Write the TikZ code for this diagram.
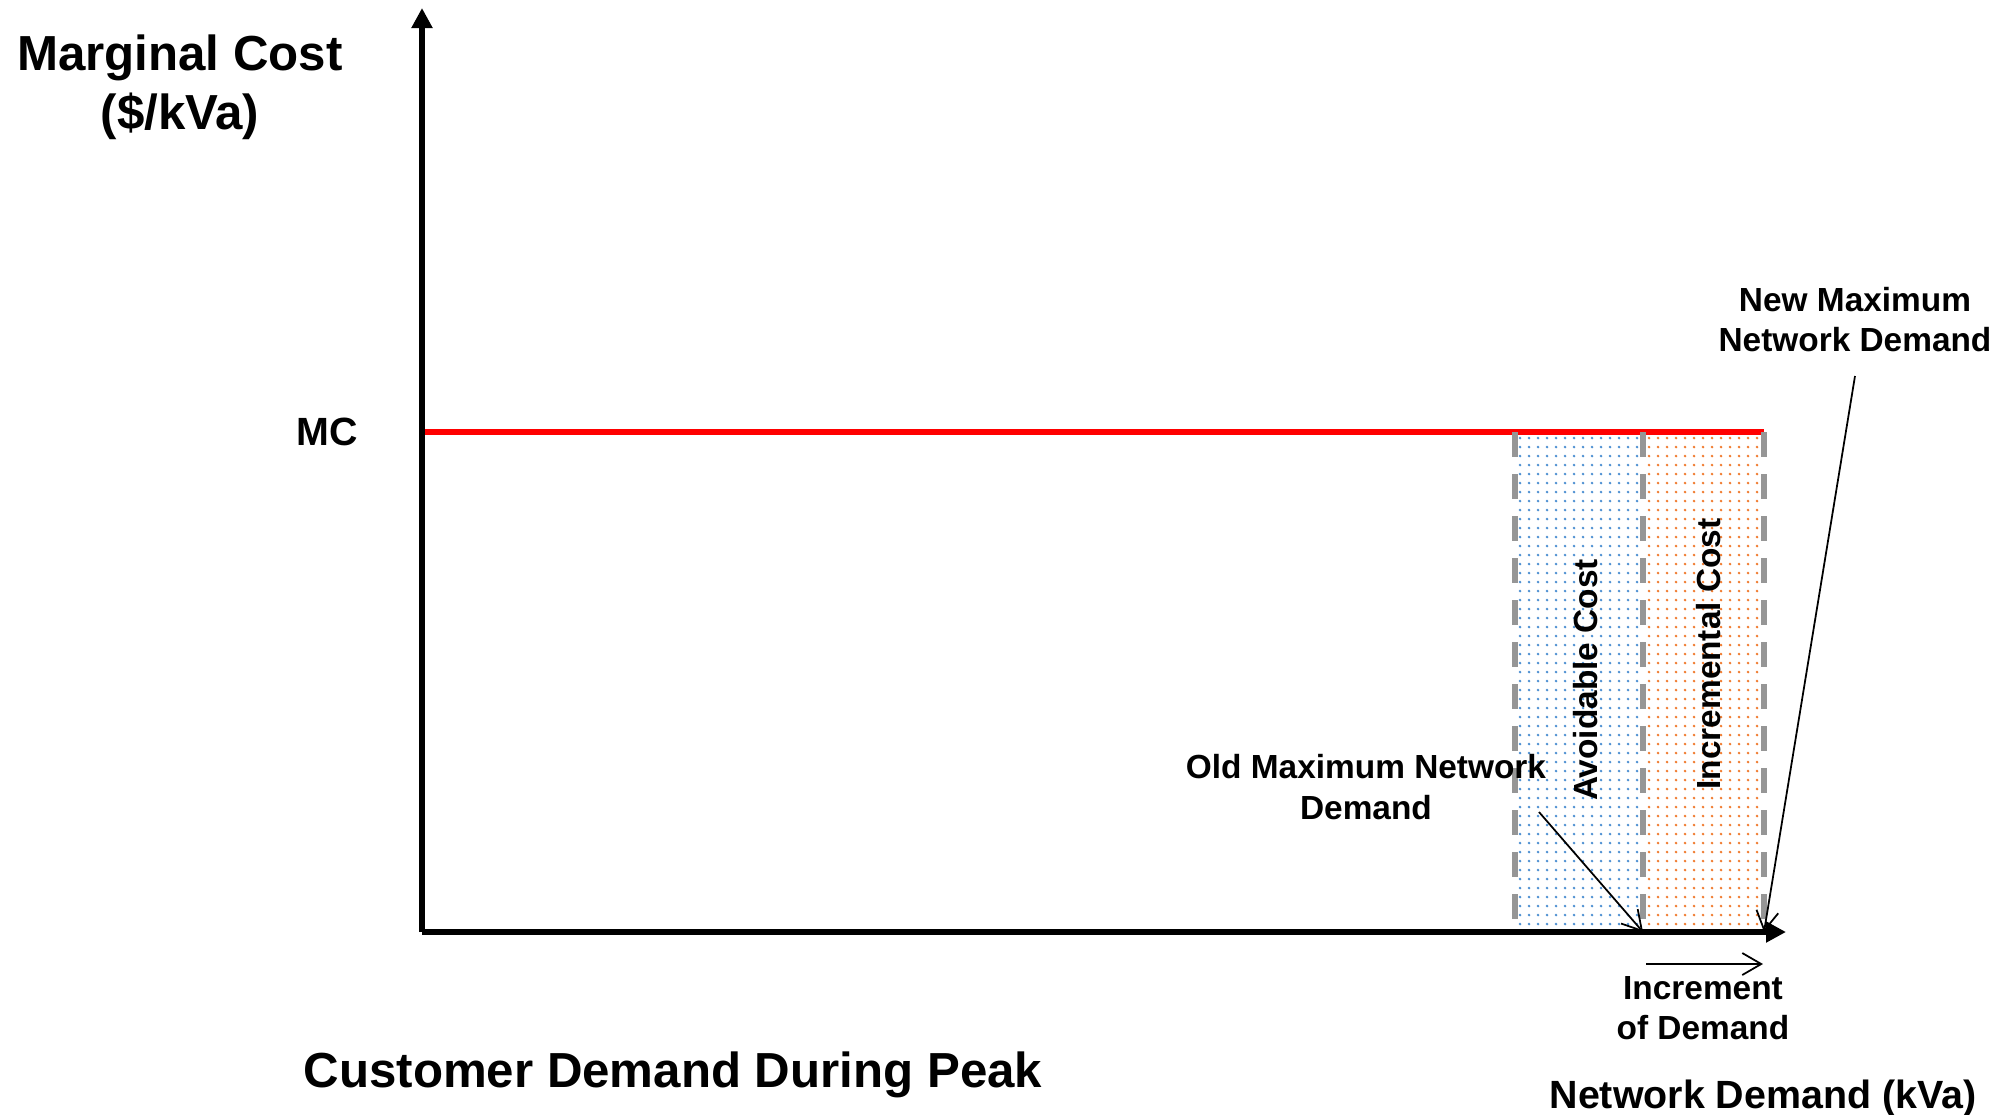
\documentclass[tikz,border=0pt]{standalone}
\usepackage{fontspec}
\setmainfont{Liberation Sans}
\definecolor{mcred}{RGB}{255,0,0}
\definecolor{dashgrey}{RGB}{150,150,150}
\definecolor{avblue}{RGB}{80,145,210}
\definecolor{incorange}{RGB}{240,125,50}
\usetikzlibrary{arrows.meta}
\usetikzlibrary{positioning}
\tikzset{
  biglabel/.style={font=\bfseries\fontsize{14}{16.8}\selectfont, align=center, inner sep=0pt},
  midlabel/.style={font=\bfseries\fontsize{11.2}{13.4}\selectfont, align=center, inner sep=0pt},
  smalllabel/.style={font=\bfseries\fontsize{9.5}{11.4}\selectfont, align=center, inner sep=0pt},
  axisline/.style={line width=1.7pt, -{Triangle[length=0.2cm,width=0.2cm]}},
  pointer/.style={line width=0.5pt, -{Straight Barb[length=0.19cm,width=0.22cm]}},
  bound/.style={dashgrey, line width=1.6pt, dash pattern=on 0.25cm off 0.17cm},
}

\begin{document}
\begin{tikzpicture}[x=0.01cm, y=-0.01cm]
    \path [use as bounding box] (0,0) rectangle (2011,1114);
    % axes corners and demand points
    \coordinate (origin) at (422,932);
    \coordinate (ytop) at (422,8);
    \coordinate (xend) at (1786,932);
    \coordinate (oldtop) at (1515,432);
    \coordinate (oldbot) at (1515,932);
    \coordinate (midtop) at (1643,432);
    \coordinate (midbot) at (1643,932);
    \coordinate (newtop) at (1764,432);
    \coordinate (newbot) at (1764,932);
    \coordinate (mcstart) at (422,432);
        % dotted fills
        \foreach \x in {1520,1529,...,1638}
            \foreach \y in {438,447,...,928}
                \fill [avblue] (\x,\y) circle (0.42pt);
        \foreach \x in {1649,1658,...,1760}
            \foreach \y in {438,447,...,928}
                \fill [incorange] (\x,\y) circle (0.42pt);
        \draw [mcred, line width=1.7pt] (mcstart) -- (newtop);
        \draw [bound] (oldtop) -- (oldbot);
        \draw [bound] (midtop) -- (midbot);
        \draw [bound] (newtop) -- (newbot);
        \draw [axisline] (origin) -- (ytop);
        \draw [axisline] (origin) -- (xend);
    % labels
    \node [biglabel] (ylabel) at (180,87) {Marginal Cost\\(\$/kVa)};
    \node [midlabel] (mc) at (327,432) {MC};
    \node [smalllabel, rotate=90] (avoid) at (1586,680) {Avoidable Cost};
    \node [smalllabel, rotate=90] (incr) at (1709,654) {Incremental Cost};
    \node [smalllabel] (oldmax) at (1366,787) {Old Maximum Network\\Demand};
    \node [smalllabel] (newmax) at (1855,320) {New Maximum\\Network Demand};
    \node [smalllabel] (increment) at (1703,1008) {Increment\\of Demand};
    \node [midlabel] (netdemand) at (1763,1098) {Network Demand (kVa)};
    \node [biglabel] (customer) at (673,1075) {Customer Demand During Peak};
    % pointers
    \coordinate (oldtail) at (1539,812);
    \coordinate (newtail) at (1855,376);
    \coordinate (incstart) at (1646,964);
    \coordinate (incend) at (1763,964);
        \draw [pointer] (oldtail) -- (midbot);
        \draw [pointer] (newtail) -- (newbot);
        \draw [pointer] (incstart) -- (incend);
\end{tikzpicture}
\end{document}
